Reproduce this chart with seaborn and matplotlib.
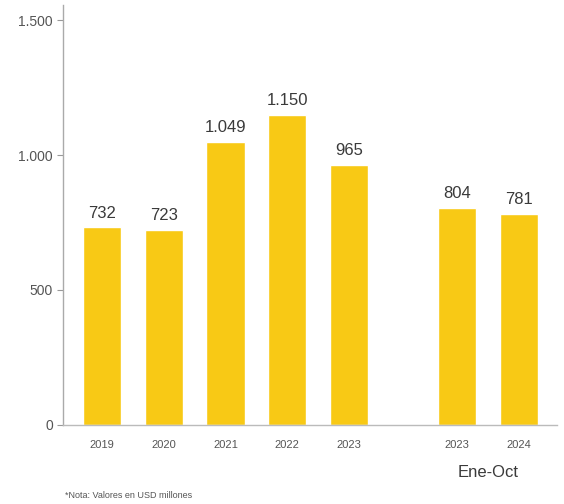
import matplotlib
matplotlib.use("Agg")
import matplotlib.pyplot as plt
import seaborn as sns
import pandas as pd
import numpy as np
from matplotlib.ticker import FuncFormatter

# values (USD millones)
years = ["2019", "2020", "2021", "2022", "2023", "2023", "2024"]
values = [732, 723, 1049, 1150, 965, 804, 781]
groups = ["anual"] * 5 + ["ene-oct"] * 2

def miles(v, pos=None):
    return f"{int(v):,}".replace(",", ".")

# bar positions: annual bars one slot apart, then a gap before Ene-Oct
pos = []
p = 0.0
for i, g in enumerate(groups):
    if i > 0:
        p += 1.75 if g != groups[i - 1] else 1.0
    pos.append(p)

df = pd.DataFrame({"pos": pos, "valor": values, "anio": years})

sns.set_style("white")
plt.rcParams["font.family"] = ["Liberation Sans", "DejaVu Sans"]

fig = plt.figure(figsize=(5.64, 5.04), dpi=100)
ax = fig.add_axes([0.112, 0.157, 0.876, 0.833])

sns.barplot(data=df, x="pos", y="valor", native_scale=True, color="#F8C915",
            saturation=1, width=0.62, ax=ax)

ax.set_xlim(pos[0] - 0.63, pos[-1] + 0.62)
ax.set_ylim(0, 1556)
ax.set_yticks([0, 500, 1000, 1500])
ax.yaxis.set_major_formatter(FuncFormatter(miles))
ax.set_xticks(pos)
ax.set_xticklabels(years, fontsize=8, color="#555555")
ax.tick_params(axis="x", length=0, pad=11)
ax.tick_params(axis="y", length=4, width=0.8, color="#999999", labelsize=10,
               labelcolor="#555555", left=True)
ax.set_xlabel("")
ax.set_ylabel("")

for s in ["top", "right"]:
    ax.spines[s].set_visible(False)
ax.spines["left"].set_color("#aaaaaa")
ax.spines["bottom"].set_color("#bbbbbb")
ax.spines["left"].set_linewidth(1.0)
ax.spines["bottom"].set_linewidth(1.0)

for x, v in zip(pos, values):
    ax.text(x, v + 25, miles(v), ha="center", va="bottom", fontsize=12,
            color="#3a3a3a")

# group label under the Ene-Oct bars
ax.text((pos[-2] + pos[-1]) / 2, -178, "Ene-Oct", ha="center", va="center",
        fontsize=12, color="#3a3a3a", clip_on=False)

fig.text(0.115, 0.012, "*Nota: Valores en USD millones", fontsize=6.5,
         color="#555555")

fig.savefig("out.png", dpi=100)
